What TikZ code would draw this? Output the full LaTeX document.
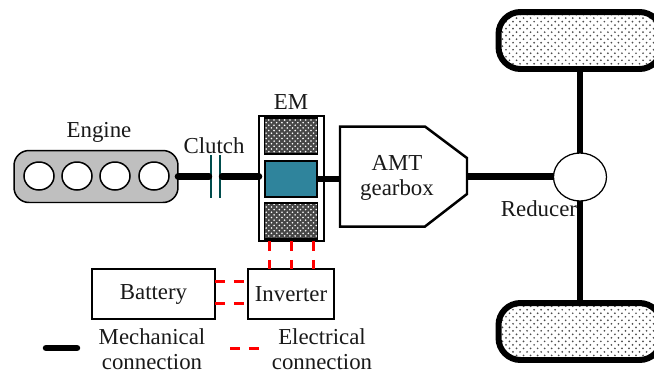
\documentclass[tikz,border=0pt]{standalone}
\usepackage{fontspec}
\setmainfont{Liberation Serif}
\usepackage{tikz}
\usetikzlibrary{patterns}
\usetikzlibrary{shapes}
\pgfdeclarepatternformonly{wheeldots}{\pgfpoint{-1pt}{-1pt}}{\pgfpoint{5pt}{5pt}}{\pgfpoint{4pt}{4pt}}{
  \pgfpathcircle{\pgfpoint{0pt}{0pt}}{0.55pt}
  \pgfpathcircle{\pgfpoint{2pt}{2pt}}{0.55pt}
  \pgfusepath{fill}
}
\tikzstyle{label}=[inner sep=0mm, font=\fontsize{13}{14.2}\selectfont, align=center, text=black!90]
\tikzstyle{box}=[rectangle,draw=black,fill=white,inner sep=0mm,outer sep=0mm,line width=0.045cm,label]
\tikzstyle{cylinder}=[ellipse,draw=black,fill=white,inner sep=0mm,outer sep=0mm,line width=0.03cm,minimum width=0.6cm,minimum height=0.56cm]
\tikzstyle{coil}=[rectangle,draw=black,inner sep=0mm,outer sep=0mm,line width=0.03cm,minimum width=1.06cm,minimum height=0.72cm,preaction={fill=black!72},pattern=crosshatch dots,pattern color=white]
\tikzstyle{wheel}=[rectangle,rounded corners=0.44cm,draw=black,inner sep=0mm,outer sep=0mm,line width=0.12cm,minimum width=3.26cm,minimum height=1.14cm,preaction={fill=white},pattern=wheeldots,pattern color=black!70]
\tikzstyle{shaft}=[draw=black,line width=0.13cm,line cap=round]
\tikzstyle{wire}=[draw=red,line width=0.06cm,dash pattern=on 0.2cm off 0.18cm]
\tikzstyle{plate}=[draw=black!40!teal,line width=0.04cm]
\definecolor{rotorblue}{HTML}{2F849C}

\begin{document}
\begin{tikzpicture}[x=0.02cm,y=-0.02cm]
      \useasboundingbox (0,0) rectangle (654,373);
      % engine
      \node[box,rounded corners=0.3cm,fill=black!25,line width=0.03cm,minimum width=3.28cm,minimum height=1.04cm] at (96,176.5) (engine) {};
      \node[cylinder] at (39,176) (cyl1) {};
      \node[cylinder] at (77,176) (cyl2) {};
      \node[cylinder] at (115,176) (cyl3) {};
      \node[cylinder] at (154,176) (cyl4) {};
      \node[label] at (99,132) (enginelabel) {Engine};
      % clutch
      \coordinate (clutchtopl) at (211,155);
      \coordinate (clutchbotl) at (211,198);
      \coordinate (clutchtopr) at (220,155);
      \coordinate (clutchbotr) at (220,198);
      \coordinate (clutchl) at (209,176.5);
      \coordinate (clutchr) at (222,176.5);
      \draw[plate] (clutchtopl)--(clutchbotl);
      \draw[plate] (clutchtopr)--(clutchbotr);
      \node[label] at (214,146) (clutchlabel) {Clutch};
      % mechanical
      \draw[shaft] (engine.east)--(clutchl);
      % EM
      \node[box,line width=0.03cm,minimum width=1.3cm,minimum height=2.5cm] at (291.5,178.5) (em) {};
      \draw[shaft] (clutchr)--(clutchr -| em.west);
      \node[coil] at (291,136) (coilup) {};
      \node[box,fill=rotorblue,line width=0.04cm,minimum width=1.06cm,minimum height=0.72cm] at (291,179) (rotor) {};
      \node[coil] at (291,221) (coildown) {};
      \node[label] at (291,102) (emlabel) {EM};
      % gearbox
      \coordinate (gearin) at (340,179);
      \coordinate (gearout) at (467,176.5);
      \draw[shaft,line cap=butt] (rotor.east)--(gearin);
      \draw[line width=0.05cm,fill=white] (340,126.5)--(425,126.5)--(467,158)--(467,194)--(425,226.5)--(340,226.5)--cycle;
      \node[label] at (397,178) (gearbox) {AMT\\gearbox};
      % axle and wheels
      \node[wheel] at (580,40.5) (wheelup) {};
      \node[wheel] at (580,331.5) (wheeldown) {};
      \node[cylinder,line width=0.025cm,minimum width=1.06cm,minimum height=0.96cm] at (580,177) (reducer) {};
      \draw[shaft,line cap=butt] (reducer.north)--(wheelup.south);
      \draw[shaft,line cap=butt] (reducer.south)--(wheeldown.north);
      \node[label] at (539,209) (reducerlabel) {Reducer};
      \draw[shaft,line cap=butt] (gearout)--(gearout -| reducer.west);
      % electrical
      \node[box,minimum width=2.46cm,minimum height=1cm] at (153.5,294) (battery) {Battery};
      \node[box,minimum width=1.72cm,minimum height=1cm] at (291,294) (inverter) {Inverter};
      \draw[wire] ([yshift=0.26cm]battery.east)--([yshift=0.26cm]inverter.west);
      \draw[wire] ([yshift=-0.18cm]battery.east)--([yshift=-0.18cm]inverter.west);
      \draw[wire] ([xshift=-0.44cm]em.south)--([xshift=-0.44cm]em.south |- inverter.north);
      \draw[wire] (em.south)--(em.south |- inverter.north);
      \draw[wire] ([xshift=0.44cm]em.south)--([xshift=0.44cm]em.south |- inverter.north);
      % legend
      \coordinate (mechl) at (46,348);
      \coordinate (mechr) at (77,348);
      \coordinate (elecl) at (230,348);
      \coordinate (elecr) at (259,348);
      \draw[shaft] (mechl)--(mechr);
      \draw[wire] (elecl)--(elecr);
      \node[label] at (152,349.5) (mechlabel) {Mechanical\\connection};
      \node[label] at (322,349.5) (eleclabel) {Electrical\\connection};
    \end{tikzpicture}
\end{document}
